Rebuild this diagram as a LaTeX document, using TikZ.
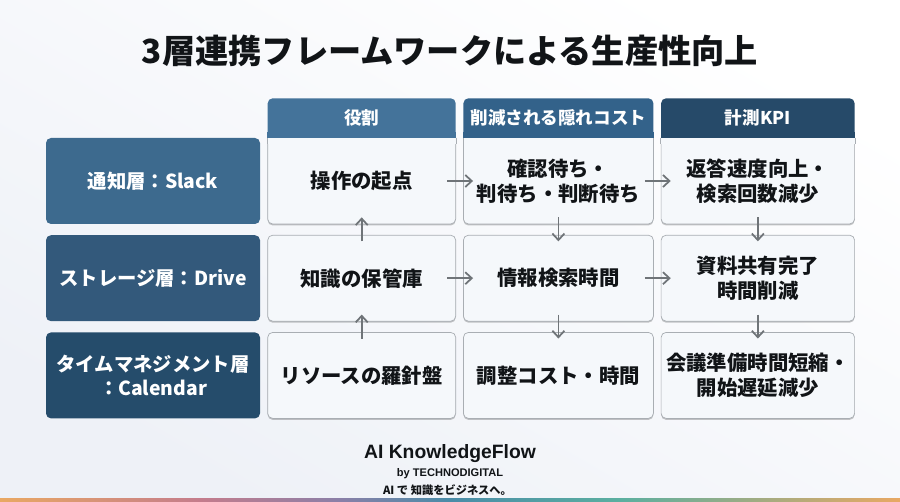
\documentclass[tikz,border=0pt]{standalone}
\usepackage{fontspec}
\setmainfont{Noto Sans CJK JP}
\newfontfamily\footfont{Liberation Sans}
\usetikzlibrary{arrows.meta,positioning,calc,shadows}
\definecolor{cellfill}{HTML}{F5F8FB}
\definecolor{cellline}{HTML}{A9AEB3}
\definecolor{arrowgray}{HTML}{6F7478}
\definecolor{inkblack}{HTML}{111417}
\definecolor{bgend}{HTML}{EEF1F7}
\definecolor{slackblue}{HTML}{3D6A8E}
\definecolor{driveblue}{HTML}{33597B}
\definecolor{calblue}{HTML}{254C6B}
\definecolor{roleblue}{HTML}{44739A}
\definecolor{costblue}{HTML}{33628A}
\definecolor{kpiblue}{HTML}{264A69}
\definecolor{stripsun}{HTML}{E9A863}
\definecolor{stripplum}{HTML}{C47C8C}
\definecolor{stripviolet}{HTML}{8A7FA8}
\definecolor{stripblue}{HTML}{4A8CA8}
\definecolor{stripteal}{HTML}{5BAFA0}

\begin{document}
\begin{tikzpicture}[
    node distance=0.21cm and 0.14cm,
    layerbox/.style={rectangle, rounded corners=0.1cm, minimum width=4.28cm, minimum height=1.72cm, align=center, text=white, font=\fontsize{11}{14}\selectfont\bfseries, inner sep=0pt},
    cellbox/.style={rectangle, rounded corners=0.1cm, draw=cellline, fill=cellfill, minimum height=1.72cm, align=center, text=inkblack, font=\fontsize{11.6}{14.2}\selectfont\bfseries, inner sep=0pt, drop shadow={shadow xshift=0pt, shadow yshift=-0.03cm, fill=black, opacity=0.22}},
    headbox/.style={rectangle, rounded corners=0.1cm, minimum height=0.78cm, align=center, text=white, font=\fontsize{10}{12}\selectfont\bfseries, inner sep=0pt},
    footline/.style={text=inkblack, inner sep=0pt},
    arrow/.style={->, >={Straight Barb[length=0.13cm, width=0.24cm]}, line width=1pt, draw=arrowgray}
]

% page and background
\useasboundingbox (0,0) rectangle (18,10.04);
\shade[shading=axis, left color=white, right color=bgend, shading angle=-30] (0,0) rectangle (18,10.04);

\node[font=\fontsize{18.9}{22}\selectfont\bfseries, text=inkblack] (title) at (9, 9.03) {3層連携フレームワークによる生産性向上};

% left column
\node[layerbox, fill=slackblue] (slack) at (3.06, 6.42) {通知層：Slack};
\node[layerbox, fill=driveblue, below=of slack] (drive) {ストレージ層：Drive};
\node[layerbox, fill=calblue, below=of drive] (calendar) {タイムマネジメント層\\：Calendar};

% first row
\node[cellbox, minimum width=3.76cm, right=0.14cm of slack] (origin) {操作の起点};
\node[cellbox, minimum width=3.8cm, right=of origin] (wait) {確認待ち・\\判待ち・判断待ち};
\node[cellbox, minimum width=3.87cm, right=of wait] (reply) {返答速度向上・\\検索回数減少};

% second row
\node[cellbox, minimum width=3.76cm, below=of origin] (store) {知識の保管庫};
\node[cellbox, minimum width=3.8cm, below=of wait] (search) {情報検索時間};
\node[cellbox, minimum width=3.87cm, below=of reply] (share) {資料共有完了\\時間削減};

% third row
\node[cellbox, minimum width=3.76cm, below=of store] (compass) {リソースの羅針盤};
\node[cellbox, minimum width=3.8cm, below=of search] (adjust) {調整コスト・時間};
\node[cellbox, minimum width=3.87cm, below=of share] (meeting) {会議準備時間短縮・\\開始遅延減少};

% squared top of the first row
\foreach \cell in {origin,wait,reply} {
    \fill[cellfill] (\cell.north west) rectangle ($(\cell.north east)+(0,-0.12)$);
    \draw[cellline] (\cell.north west) -- ++(0,-0.12);
    \draw[cellline] (\cell.north east) -- ++(0,-0.12);
}

% headers
\node[headbox, fill=roleblue, minimum width=3.76cm, above=0cm of origin] (role) {役割};
\node[headbox, fill=costblue, minimum width=3.8cm, above=0cm of wait] (cost) {削減される隠れコスト};
\node[headbox, fill=kpiblue, minimum width=3.87cm, above=0cm of reply] (kpi) {計測KPI};
\fill[roleblue] ($(role.south west)+(0,0.12)$) rectangle (role.south east);
\fill[costblue] ($(cost.south west)+(0,0.12)$) rectangle (cost.south east);
\fill[kpiblue] ($(kpi.south west)+(0,0.12)$) rectangle (kpi.south east);

% arrows across
\draw[arrow, shorten <=-0.18cm, shorten >=-0.2cm] (origin) -- (wait);
\draw[arrow, shorten <=-0.18cm, shorten >=-0.2cm] (wait) -- (reply);
\draw[arrow, shorten <=-0.18cm, shorten >=-0.2cm] (store) -- (search);
\draw[arrow, shorten <=-0.18cm, shorten >=-0.2cm] (search) -- (share);

% arrows up and down
\draw[arrow, shorten <=-0.13cm, shorten >=-0.14cm] (store) -- (origin);
\draw[arrow, shorten <=-0.13cm, shorten >=-0.14cm] (compass) -- (store);
\draw[arrow, shorten <=-0.14cm, shorten >=-0.13cm] (wait) -- (search);
\draw[arrow, shorten <=-0.14cm, shorten >=-0.13cm] (search) -- (adjust);
\draw[arrow, shorten <=-0.14cm, shorten >=-0.13cm] (reply) -- (share);
\draw[arrow, shorten <=-0.14cm, shorten >=-0.13cm] (share) -- (meeting);

% footer
\node[footline, font=\footfont\fontsize{11}{13}\selectfont\bfseries] (brand) at (9, 0.97) {AI KnowledgeFlow};
\node[footline, font=\footfont\fontsize{6.3}{8}\selectfont\bfseries] (maker) at (9, 0.56) {by TECHNODIGITAL};
\node[footline, font=\fontsize{6.4}{8}\selectfont\bfseries] (slogan) at (8.95, 0.24) {AI で 知識をビジネスへ。};

% bottom strip
\foreach \xa/\xb/\ca/\cb in {0/4/stripsun/stripplum, 4/6.8/stripplum/stripviolet, 6.8/9/stripviolet/stripblue, 9/12.4/stripblue/stripteal, 12.4/18/stripteal/stripsun}
    \shade[left color=\ca, right color=\cb] (\xa,0) rectangle (\xb,0.06);

\end{tikzpicture}
\end{document}
